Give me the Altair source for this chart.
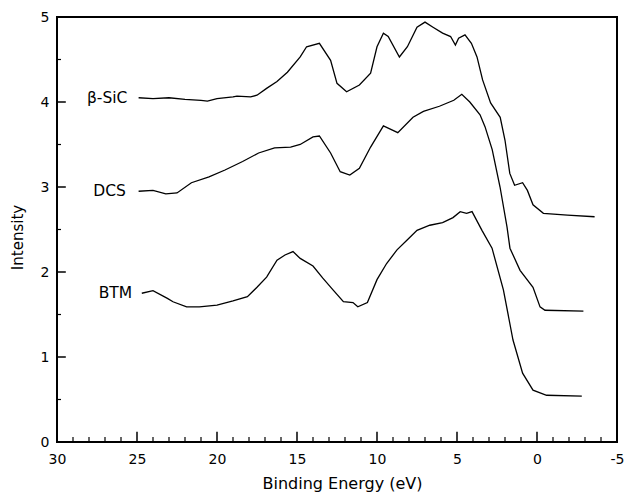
import altair as alt
import pandas as pd

# ---- data ----
bsic_x = [24.9, 24.0, 23.0, 22.0, 21.0, 20.6, 20.0, 19.0, 18.75, 17.9, 17.5, 16.9, 16.25,
          15.6, 14.8, 14.4, 13.6, 12.9, 12.5, 11.9, 11.1, 10.4, 10.0, 9.6, 9.3, 8.6,
          8.1, 7.5, 7.0, 6.5, 5.9, 5.4, 5.1, 4.9, 4.5, 4.1, 3.75, 3.4, 2.9, 2.3, 2.0,
          1.7, 1.4, 0.9, 0.6, 0.25, -0.4, -1.9, -3.6]
bsic_y = [4.05, 4.04, 4.05, 4.03, 4.02, 4.01, 4.04, 4.06, 4.07, 4.06, 4.08, 4.16, 4.24,
          4.35, 4.53, 4.65, 4.69, 4.49, 4.22, 4.12, 4.20, 4.34, 4.65, 4.81, 4.77, 4.53,
          4.65, 4.88, 4.94, 4.88, 4.81, 4.77, 4.67, 4.75, 4.79, 4.69, 4.53, 4.26, 3.99,
          3.82, 3.55, 3.16, 3.02, 3.05, 2.96, 2.79, 2.69, 2.67, 2.65]

dcs_x = [24.9, 24.0, 23.2, 22.5, 21.6, 20.5, 19.5, 18.4, 17.4, 16.4, 15.4, 14.8, 14.0,
         13.6, 12.9, 12.3, 11.7, 11.1, 10.4, 9.6, 8.7, 7.75, 7.1, 6.1, 5.2, 4.7, 4.2,
         3.56, 3.25, 2.8, 2.31, 1.875, 1.69, 1.06, 0.25, -0.19, -0.5, -2.9]
dcs_y = [2.95, 2.96, 2.92, 2.93, 3.05, 3.12, 3.20, 3.30, 3.40, 3.46, 3.47, 3.50, 3.59,
         3.60, 3.40, 3.18, 3.14, 3.22, 3.47, 3.72, 3.64, 3.82, 3.89, 3.95, 4.02, 4.09,
         4.00, 3.85, 3.71, 3.44, 3.00, 2.53, 2.28, 2.02, 1.82, 1.59, 1.55, 1.54]

btm_x = [24.7, 24.0, 23.1, 22.75, 21.9, 21.1, 20.0, 19.0, 18.1, 17.5, 16.9, 16.25,
         15.75, 15.25, 14.8, 14.0, 13.4, 12.75, 12.1, 11.5, 11.2, 10.6, 10.0, 9.4,
         8.75, 8.1, 7.5, 6.7, 5.9, 5.25, 4.8, 4.4, 4.06, 3.44, 2.81, 2.1, 1.5, 0.9,
         0.25, -0.6, -2.8]
btm_y = [1.75, 1.78, 1.69, 1.65, 1.59, 1.59, 1.61, 1.66, 1.71, 1.82, 1.94, 2.14,
         2.20, 2.24, 2.16, 2.07, 1.93, 1.79, 1.65, 1.64, 1.59, 1.64, 1.91, 2.10,
         2.26, 2.38, 2.49, 2.55, 2.58, 2.64, 2.71, 2.69, 2.71, 2.49, 2.28, 1.79, 1.20,
         0.81, 0.61, 0.55, 0.54]

label_text = ["β-SiC", "DCS", "BTM"]
label_x = [25.6, 25.7, 25.3]
label_y = [4.05, 2.95, 1.75]

x_major = [30, 25, 20, 15, 10, 5, 0, -5]
y_major = [0, 1, 2, 3, 4, 5]
x_tick_major = [25, 20, 15, 10, 5, 0]
x_tick_minor = [v for v in range(-4, 30) if v % 5 != 0]
y_tick_major = [1, 2, 3, 4]
y_tick_minor = [0.5, 1.5, 2.5, 3.5, 4.5]

FONT = "DejaVu Sans"

rows = []
for name, xs, ys in [("β-SiC", bsic_x, bsic_y), ("DCS", dcs_x, dcs_y), ("BTM", btm_x, btm_y)]:
    for i, (a, b) in enumerate(zip(xs, ys)):
        rows.append({"series": name, "order": i, "energy": a, "intensity": b})
curves = pd.DataFrame(rows)

xscale = alt.Scale(domain=[-5, 30], reverse=True, nice=False, zero=False)
yscale = alt.Scale(domain=[0, 5], nice=False)

lines = alt.Chart(curves).mark_line(color="black", strokeWidth=1.3).encode(
    x=alt.X("energy:Q", scale=xscale,
            axis=alt.Axis(title="Binding  Energy (eV)", values=x_major, format="d",
                          labelExpr="datum.value < 0 ? '-' + abs(datum.value) : datum.label",
                          ticks=False, domain=False, grid=False, labelPadding=10,
                          titlePadding=9, labelFontSize=14, titleFontSize=16, titleX=285,
                          labelFont=FONT, titleFont=FONT, labelColor="black",
                          titleColor="black", titleFontWeight="normal", labelFlush=False)),
    y=alt.Y("intensity:Q", scale=yscale,
            axis=alt.Axis(title="Intensity", values=y_major, format="d", ticks=False,
                          domain=False, grid=False, labelPadding=8, titlePadding=15,
                          labelFontSize=14, titleFontSize=15, titleY=220, labelFont=FONT,
                          titleFont=FONT, labelColor="black", titleColor="black",
                          titleFontWeight="normal", labelFlush=False)),
    detail="series:N",
    order="order:Q",
)

labels = alt.Chart(pd.DataFrame({"t": label_text, "x": label_x, "y": label_y})).mark_text(
    align="right", baseline="middle", fontSize=15.5, font=FONT, color="black"
).encode(x=alt.X("x:Q", scale=xscale), y=alt.Y("y:Q", scale=yscale), text="t:N")

xt_major = alt.Chart(pd.DataFrame({"p": x_tick_major})).mark_rule(color="black", strokeWidth=1.5).encode(
    x=alt.X("p:Q", scale=xscale), y=alt.datum(0), y2=alt.datum(0.12))
xt_minor = alt.Chart(pd.DataFrame({"p": x_tick_minor})).mark_rule(color="black", strokeWidth=1.2).encode(
    x=alt.X("p:Q", scale=xscale), y=alt.datum(0), y2=alt.datum(0.06))
yt_major = alt.Chart(pd.DataFrame({"p": y_tick_major})).mark_rule(color="black", strokeWidth=1.5).encode(
    y=alt.Y("p:Q", scale=yscale), x=alt.datum(30), x2=alt.datum(29.45))
yt_minor = alt.Chart(pd.DataFrame({"p": y_tick_minor})).mark_rule(color="black", strokeWidth=1.2).encode(
    y=alt.Y("p:Q", scale=yscale), x=alt.datum(30), x2=alt.datum(29.75))

chart = alt.layer(lines, labels, xt_major, xt_minor, yt_major, yt_minor).properties(
    width=560, height=425,
    autosize=alt.AutoSizeParams(type="none"),
    padding={"left": 57, "top": 17, "right": 9, "bottom": 55},
    background="white",
).configure_view(stroke="black", strokeWidth=2)

chart.save("out.html", embed_options={"renderer": "svg", "actions": False})
